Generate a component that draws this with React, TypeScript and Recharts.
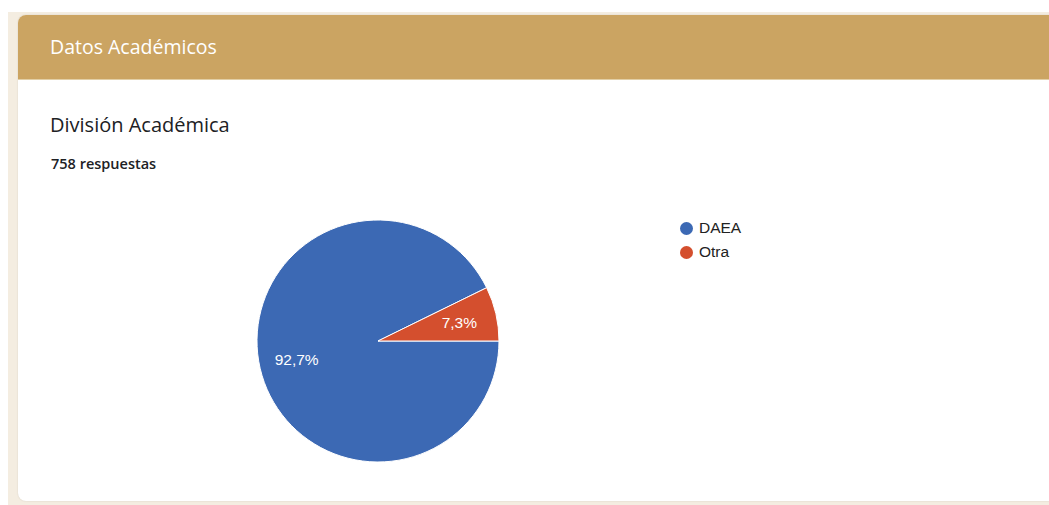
import { PieChart, Pie, Cell, Legend } from "recharts";

const CATEGORIES = ["DAEA", "Otra"];
const RESPONSES = [703, 55];
const COLORS = ["#3c69b4", "#d44f2e"];

const data = CATEGORIES.map((name, i) => ({ name, value: RESPONSES[i] }));

const RAD = Math.PI / 180;
const CHART_FONT = "Liberation Sans, Arial, sans-serif";

function renderLabel(props: any) {
  const { cx, cy, midAngle, outerRadius, percent } = props;
  const r = outerRadius * 0.69;
  const x = cx + r * Math.cos(-midAngle * RAD);
  const y = cy + r * Math.sin(-midAngle * RAD);
  return (
    <text
      x={x}
      y={y}
      fill="#fff"
      textAnchor="middle"
      dominantBaseline="central"
      fontSize={15.5}
      fontFamily={CHART_FONT}
    >
      {(percent * 100).toFixed(1).replace(".", ",")}%
    </text>
  );
}

function LegendContent({ payload }: any) {
  return (
    <div style={{ fontFamily: CHART_FONT, fontSize: 15.5, color: "#222" }}>
      {(payload || []).map((p: any, i: number) => (
        <div key={i} style={{ display: "flex", alignItems: "center", height: 24 }}>
          <span
            style={{
              width: 13,
              height: 13,
              borderRadius: "50%",
              background: p.color,
              display: "inline-block",
              marginRight: 6,
            }}
          />
          {p.value}
        </div>
      ))}
    </div>
  );
}

export default function App() {
  return (
    <div
      style={{
        position: "absolute",
        left: 0,
        top: 0,
        width: 1049,
        height: 505,
        background: "#fff",
        overflow: "hidden",
        fontFamily: "'Open Sans', Arial, sans-serif",
      }}
    >
      <div
        style={{
          position: "absolute",
          left: 8,
          top: 12,
          width: 1060,
          height: 500,
          background: "#f4ede1",
        }}
      />
      <div
        style={{
          position: "absolute",
          left: 18,
          top: 15,
          width: 1060,
          height: 486,
          background: "#fff",
          borderRadius: 8,
          overflow: "hidden",
          boxShadow: "0 0 2px rgba(0,0,0,0.12)",
        }}
      >
        <div
          style={{
            height: 65,
            background: "#cba462",
            borderBottom: "1px solid #e2cfa6",
            color: "#fff",
            fontSize: 19.5,
            lineHeight: "63px",
            paddingLeft: 32,
            boxSizing: "border-box",
          }}
        >
          Datos Académicos
        </div>
        <div
          style={{
            position: "absolute",
            left: 32,
            top: 96,
            fontSize: 20,
            color: "#202124",
          }}
        >
          División Académica
        </div>
        <div
          style={{
            position: "absolute",
            left: 33,
            top: 139,
            fontSize: 14.5,
            fontWeight: 600,
            color: "#202124",
          }}
        >
          758 respuestas
        </div>
      </div>
      <div style={{ position: "absolute", left: 0, top: 0 }}>
        <PieChart width={1049} height={505} margin={{ top: 0, right: 0, bottom: 0, left: 0 }}>
          <Pie
            data={data}
            dataKey="value"
            nameKey="name"
            cx={378}
            cy={341}
            outerRadius={121}
            startAngle={0}
            endAngle={-360}
            stroke="#fff"
            strokeWidth={1}
            label={renderLabel}
            labelLine={false}
            isAnimationActive={false}
          >
            {data.map((_, i) => (
              <Cell key={i} fill={COLORS[i % COLORS.length]} />
            ))}
          </Pie>
          <Legend
            layout="vertical"
            content={<LegendContent />}
            wrapperStyle={{ left: 680, top: 216, width: 120 }}
          />
        </PieChart>
      </div>
    </div>
  );
}
